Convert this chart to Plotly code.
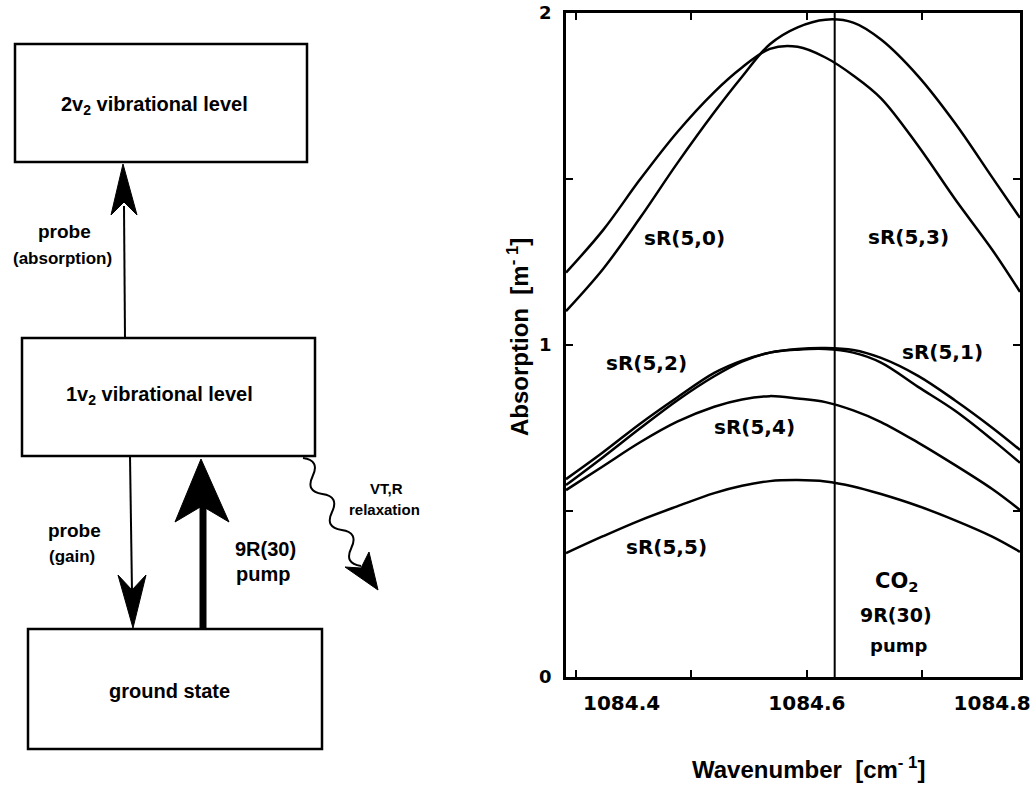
import plotly.graph_objects as go

# ---------------- data ----------------
wavenumber = [1084.34, 1084.38, 1084.42, 1084.46, 1084.50, 1084.53, 1084.56, 1084.59,
              1084.62, 1084.65, 1084.68, 1084.72, 1084.76, 1084.80, 1084.83]
sR_5_0 = [1.218, 1.346, 1.499, 1.641, 1.762, 1.836, 1.892, 1.898, 1.866, 1.812, 1.743, 1.600, 1.439, 1.287, 1.160]
sR_5_3 = [1.102, 1.229, 1.383, 1.547, 1.701, 1.808, 1.906, 1.957, 1.980, 1.971, 1.920, 1.810, 1.668, 1.505, 1.383]
sR_5_2 = [0.596, 0.677, 0.763, 0.842, 0.916, 0.953, 0.977, 0.988, 0.991, 0.985, 0.961, 0.907, 0.833, 0.751, 0.684]
sR_5_1 = [0.578, 0.662, 0.749, 0.833, 0.906, 0.950, 0.977, 0.986, 0.988, 0.977, 0.947, 0.874, 0.802, 0.715, 0.645]
sR_5_4 = [0.563, 0.635, 0.707, 0.769, 0.814, 0.836, 0.846, 0.839, 0.828, 0.803, 0.768, 0.706, 0.638, 0.566, 0.503]
sR_5_5 = [0.373, 0.424, 0.472, 0.514, 0.554, 0.576, 0.590, 0.593, 0.589, 0.574, 0.551, 0.515, 0.472, 0.423, 0.377]
pump_wavenumber = 1084.63

x_tick_vals = [1084.4, 1084.6, 1084.8]
x_tick_text = ["1084.4", "1084.6", "1084.8"]
y_tick_vals = [0, 1, 2]
y_tick_text = ["0", "1", "2"]

curve_labels = ["sR(5,0)", "sR(5,3)", "sR(5,2)", "sR(5,1)", "sR(5,4)", "sR(5,5)"]
label_x = [1084.468, 1084.710, 1084.427, 1084.746, 1084.543, 1084.448]
label_y = [1.322, 1.325, 0.946, 0.979, 0.753, 0.392]

# ---------------- figure ----------------
W, H = 1033, 787
PLOT_FONT = "DejaVu Sans"
DIAG_FONT = "Liberation Sans"

fig = go.Figure()
for ys in [sR_5_0, sR_5_3, sR_5_2, sR_5_1, sR_5_4, sR_5_5]:
    fig.add_trace(go.Scatter(x=wavenumber, y=ys, mode="lines",
                             line=dict(color="black", width=2.5, shape="spline", smoothing=1.0),
                             hoverinfo="skip", showlegend=False))
fig.add_trace(go.Scatter(x=[pump_wavenumber, pump_wavenumber], y=[0, 2], mode="lines",
                         line=dict(color="black", width=2), hoverinfo="skip", showlegend=False))
# empty trace to create the page-pixel overlay axes used for the level diagram
fig.add_trace(go.Scatter(x=[], y=[], xaxis="x2", yaxis="y2", showlegend=False, hoverinfo="skip"))

annotations = []
for t, xv, yv in zip(curve_labels, label_x, label_y):
    annotations.append(dict(x=xv, y=yv, xref="x", yref="y", text=t, showarrow=False,
                            font=dict(family=PLOT_FONT, size=20, color="black", weight="bold")))
annotations += [
    dict(x=1084.697, y=0.286, xref="x", yref="y", text="CO<sub>2</sub>", showarrow=False,
         font=dict(family=PLOT_FONT, size=21, color="black", weight="bold")),
    dict(x=1084.696, y=0.187, xref="x", yref="y", text="9R(30)", showarrow=False,
         font=dict(family=PLOT_FONT, size=19, color="black", weight="bold")),
    dict(x=1084.699, y=0.096, xref="x", yref="y", text="pump", showarrow=False,
         font=dict(family=PLOT_FONT, size=18, color="black", weight="bold")),
]

def px_text(x, y, text, size, angle=0, family=DIAG_FONT):
    return dict(x=x, y=y, xref="x2", yref="y2", text=text, showarrow=False, textangle=angle,
                font=dict(family=family, size=size, color="black", weight="bold"))

# axis titles
annotations.append(px_text(808, 768, "Wavenumber&nbsp; [cm<sup>-&nbsp;1</sup>]", 24))
annotations.append(px_text(518, 337, "Absorption&nbsp; [m<sup>-&nbsp;1</sup>]", 24, angle=-90))

# level diagram texts
annotations += [
    px_text(154, 105, "2v<sub>2</sub> vibrational level", 20),
    px_text(159, 395, "1v<sub>2</sub> vibrational level", 20),
    px_text(169, 691, "ground state", 20),
    px_text(64, 231, "probe", 19),
    px_text(62, 258, "(absorption)", 17),
    px_text(74, 530, "probe", 19),
    px_text(72, 556, "(gain)", 17),
    px_text(265, 549, "9R(30)", 20),
    px_text(263, 574, "pump", 20),
    px_text(386, 488, "VT,R", 15),
    px_text(384, 509, "relaxation", 15),
]

shapes = []
def pshape(**kw):
    d = dict(xref="x2", yref="y2", layer="above")
    d.update(kw)
    shapes.append(d)

# level boxes
for (x0, y0, x1, y1) in [(15, 44, 307, 162), (22, 338, 315, 456), (28, 629, 322, 749)]:
    pshape(type="rect", x0=x0, y0=y0, x1=x1, y1=y1, line=dict(color="black", width=2.5))

# probe (absorption) arrow up
pshape(type="line", x0=125, y0=338, x1=124, y1=206, line=dict(color="black", width=2))
pshape(type="path", path="M 123,164 L 111,215 L 124,202 L 137,215 Z",
       fillcolor="black", line=dict(color="black", width=1))
# probe (gain) arrow down
pshape(type="line", x0=130, y0=456, x1=132, y1=592, line=dict(color="black", width=2))
pshape(type="path", path="M 133,628 L 118,575 L 132,590 L 146,575 Z",
       fillcolor="black", line=dict(color="black", width=1))
# pump arrow (thick) up
pshape(type="line", x0=203, y0=629, x1=203, y1=506, line=dict(color="black", width=7))
pshape(type="path", path="M 201,459 L 175,522 L 202,506 L 229,522 Z",
       fillcolor="black", line=dict(color="black", width=1))

# wavy relaxation arrow
def squiggle(p0, p1, n_half, amp):
    dx, dy = p1[0] - p0[0], p1[1] - p0[1]
    L = (dx * dx + dy * dy) ** 0.5
    nx, ny = dy / L, -dx / L
    path = f"M {p0[0]:.1f},{p0[1]:.1f}"
    for k in range(n_half):
        a = (k + 0.5) / n_half
        b = (k + 1) / n_half
        s = 1 if k % 2 == 0 else -1
        cx = p0[0] + dx * a + nx * 2 * amp * s
        cy = p0[1] + dy * a + ny * 2 * amp * s
        ex, ey = p0[0] + dx * b, p0[1] + dy * b
        path += f" Q {cx:.1f},{cy:.1f} {ex:.1f},{ey:.1f}"
    return path

pshape(type="path", path=squiggle((303, 458), (361, 566), 6, 7), line=dict(color="black", width=2))
pshape(type="path", path="M 378,590 L 345,567 L 361,568 L 369,552 Z",
       fillcolor="black", line=dict(color="black", width=1))

fig.update_layout(
    width=W, height=H,
    margin=dict(l=0, r=0, t=0, b=0),
    paper_bgcolor="white", plot_bgcolor="rgba(0,0,0,0)",
    showlegend=False,
    xaxis=dict(domain=[566 / W, 1020 / W], range=[1084.34, 1084.83], anchor="y",
               showline=True, linewidth=3, linecolor="black", mirror="ticks",
               showgrid=False, zeroline=False, ticks="",
               tickmode="array", tickvals=x_tick_vals, ticktext=x_tick_text,
               tickfont=dict(family=PLOT_FONT, size=20, color="black", weight="bold"),
               ticklabelstandoff=6, automargin=False, fixedrange=True,
               minor=dict(tickmode="linear", tick0=1084.6, dtick=0.1247, ticks="inside",
                          ticklen=7, tickwidth=2, tickcolor="black", showgrid=False)),
    yaxis=dict(domain=[1 - 677 / H, 1 - 13 / H], range=[0, 2], anchor="x",
               showline=True, linewidth=2.5, linecolor="black", mirror="ticks",
               showgrid=False, zeroline=False, ticks="inside", ticklen=7, tickwidth=2,
               tickcolor="black", tickmode="array", tickvals=y_tick_vals, ticktext=y_tick_text,
               tickfont=dict(family=PLOT_FONT, size=18, color="black", weight="bold"),
               ticklabelstandoff=8, automargin=False, fixedrange=True,
               minor=dict(tickmode="linear", tick0=0, dtick=0.5, ticks="inside",
                          ticklen=7, tickwidth=2, tickcolor="black", showgrid=False)),
    xaxis2=dict(domain=[0, 1], range=[0, W], anchor="y2", visible=False, fixedrange=True),
    yaxis2=dict(domain=[0, 1], range=[H, 0], anchor="x2", visible=False, fixedrange=True),
    annotations=annotations,
    shapes=shapes,
)

fig.write_html("out.html")
